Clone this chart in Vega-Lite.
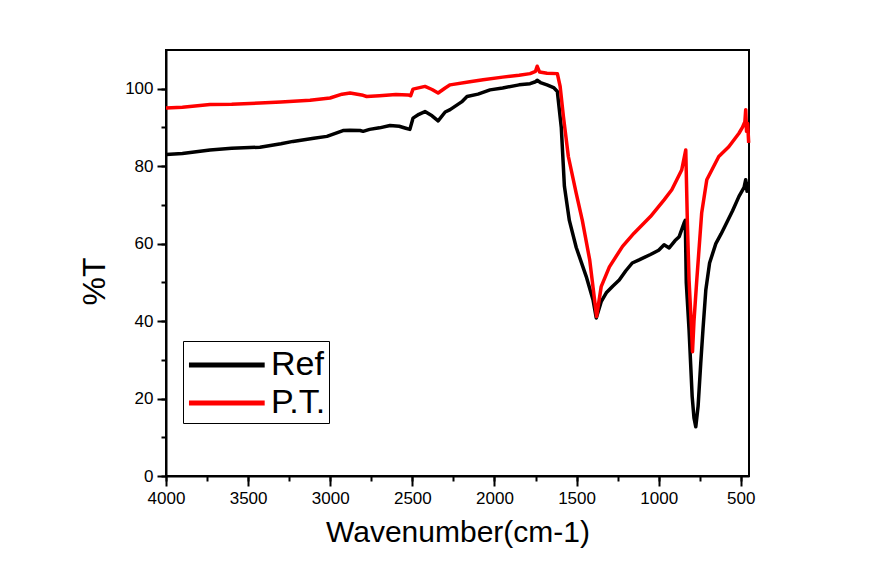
{
  "$schema": "https://vega.github.io/schema/vega-lite/v6.json",
  "autosize": {"type": "none"},
  "width": 583,
  "height": 426,
  "padding": {"left": 166, "top": 50, "right": 126, "bottom": 99},
  "background": "white",
  "config": {
    "view": {"stroke": "black", "strokeWidth": 2},
    "font": "Liberation Sans",
    "axis": {"grid": false, "domainColor": "black", "domainWidth": 2, "tickColor": "black", "tickWidth": 2, "labelColor": "black", "titleColor": "black", "labelFont": "Liberation Sans", "titleFont": "Liberation Sans", "titleFontWeight": "normal"}
  },
  "data": {"values": [
      {"wn": 4000, "T": 83.0, "s": "Ref"}, {"wn": 3900, "T": 83.3, "s": "Ref"}, {"wn": 3732, "T": 84.2, "s": "Ref"}, {"wn": 3600, "T": 84.6, "s": "Ref"}, {"wn": 3428, "T": 84.9, "s": "Ref"}, {"wn": 3300, "T": 85.8, "s": "Ref"}, {"wn": 3227, "T": 86.4, "s": "Ref"}, {"wn": 3100, "T": 87.2, "s": "Ref"}, {"wn": 3020, "T": 87.7, "s": "Ref"}, {"wn": 2922, "T": 89.2, "s": "Ref"}, {"wn": 2880, "T": 89.3, "s": "Ref"}, {"wn": 2818, "T": 89.2, "s": "Ref"}, {"wn": 2800, "T": 89.0, "s": "Ref"}, {"wn": 2760, "T": 89.5, "s": "Ref"}, {"wn": 2700, "T": 89.9, "s": "Ref"}, {"wn": 2636, "T": 90.5, "s": "Ref"}, {"wn": 2580, "T": 90.3, "s": "Ref"}, {"wn": 2540, "T": 89.8, "s": "Ref"}, {"wn": 2515, "T": 89.5, "s": "Ref"}, {"wn": 2496, "T": 92.4, "s": "Ref"}, {"wn": 2460, "T": 93.4, "s": "Ref"}, {"wn": 2423, "T": 94.1, "s": "Ref"}, {"wn": 2380, "T": 93.0, "s": "Ref"}, {"wn": 2343, "T": 91.7, "s": "Ref"}, {"wn": 2300, "T": 94.0, "s": "Ref"}, {"wn": 2270, "T": 94.6, "s": "Ref"}, {"wn": 2200, "T": 96.6, "s": "Ref"}, {"wn": 2167, "T": 98.0, "s": "Ref"}, {"wn": 2100, "T": 98.6, "s": "Ref"}, {"wn": 2027, "T": 99.7, "s": "Ref"}, {"wn": 1950, "T": 100.2, "s": "Ref"}, {"wn": 1850, "T": 101.0, "s": "Ref"}, {"wn": 1783, "T": 101.3, "s": "Ref"}, {"wn": 1750, "T": 101.8, "s": "Ref"}, {"wn": 1740, "T": 102.2, "s": "Ref"}, {"wn": 1720, "T": 101.6, "s": "Ref"}, {"wn": 1680, "T": 101.0, "s": "Ref"}, {"wn": 1640, "T": 100.3, "s": "Ref"}, {"wn": 1617, "T": 99.3, "s": "Ref"}, {"wn": 1593, "T": 90.0, "s": "Ref"}, {"wn": 1574, "T": 74.8, "s": "Ref"}, {"wn": 1544, "T": 66.0, "s": "Ref"}, {"wn": 1502, "T": 59.0, "s": "Ref"}, {"wn": 1441, "T": 51.5, "s": "Ref"}, {"wn": 1400, "T": 45.5, "s": "Ref"}, {"wn": 1380, "T": 40.8, "s": "Ref"}, {"wn": 1350, "T": 45.0, "s": "Ref"}, {"wn": 1319, "T": 47.3, "s": "Ref"}, {"wn": 1280, "T": 49.0, "s": "Ref"}, {"wn": 1240, "T": 50.6, "s": "Ref"}, {"wn": 1200, "T": 53.0, "s": "Ref"}, {"wn": 1161, "T": 55.0, "s": "Ref"}, {"wn": 1119, "T": 55.8, "s": "Ref"}, {"wn": 1050, "T": 57.2, "s": "Ref"}, {"wn": 1000, "T": 58.3, "s": "Ref"}, {"wn": 967, "T": 59.7, "s": "Ref"}, {"wn": 936, "T": 58.9, "s": "Ref"}, {"wn": 900, "T": 60.8, "s": "Ref"}, {"wn": 875, "T": 61.8, "s": "Ref"}, {"wn": 845, "T": 65.4, "s": "Ref"}, {"wn": 838, "T": 66.0, "s": "Ref"}, {"wn": 832, "T": 50.0, "s": "Ref"}, {"wn": 815, "T": 37.7, "s": "Ref"}, {"wn": 796, "T": 20.5, "s": "Ref"}, {"wn": 785, "T": 15.0, "s": "Ref"}, {"wn": 774, "T": 12.7, "s": "Ref"}, {"wn": 760, "T": 18.0, "s": "Ref"}, {"wn": 744, "T": 29.0, "s": "Ref"}, {"wn": 730, "T": 38.0, "s": "Ref"}, {"wn": 713, "T": 48.0, "s": "Ref"}, {"wn": 690, "T": 55.0, "s": "Ref"}, {"wn": 652, "T": 60.0, "s": "Ref"}, {"wn": 620, "T": 62.5, "s": "Ref"}, {"wn": 592, "T": 64.9, "s": "Ref"}, {"wn": 550, "T": 68.5, "s": "Ref"}, {"wn": 511, "T": 72.2, "s": "Ref"}, {"wn": 480, "T": 74.5, "s": "Ref"}, {"wn": 470, "T": 76.5, "s": "Ref"}, {"wn": 462, "T": 73.5, "s": "Ref"}, {"wn": 455, "T": 76.0, "s": "Ref"},
      {"wn": 4000, "T": 95.0, "s": "P.T."}, {"wn": 3900, "T": 95.2, "s": "P.T."}, {"wn": 3732, "T": 95.9, "s": "P.T."}, {"wn": 3600, "T": 96.0, "s": "P.T."}, {"wn": 3428, "T": 96.3, "s": "P.T."}, {"wn": 3300, "T": 96.6, "s": "P.T."}, {"wn": 3123, "T": 97.0, "s": "P.T."}, {"wn": 3001, "T": 97.6, "s": "P.T."}, {"wn": 2928, "T": 98.6, "s": "P.T."}, {"wn": 2879, "T": 98.9, "s": "P.T."}, {"wn": 2800, "T": 98.3, "s": "P.T."}, {"wn": 2778, "T": 98.0, "s": "P.T."}, {"wn": 2700, "T": 98.2, "s": "P.T."}, {"wn": 2600, "T": 98.5, "s": "P.T."}, {"wn": 2526, "T": 98.4, "s": "P.T."}, {"wn": 2510, "T": 98.2, "s": "P.T."}, {"wn": 2496, "T": 99.9, "s": "P.T."}, {"wn": 2423, "T": 100.6, "s": "P.T."}, {"wn": 2380, "T": 99.8, "s": "P.T."}, {"wn": 2343, "T": 98.9, "s": "P.T."}, {"wn": 2300, "T": 100.2, "s": "P.T."}, {"wn": 2270, "T": 101.0, "s": "P.T."}, {"wn": 2150, "T": 101.8, "s": "P.T."}, {"wn": 2069, "T": 102.3, "s": "P.T."}, {"wn": 1950, "T": 103.0, "s": "P.T."}, {"wn": 1850, "T": 103.5, "s": "P.T."}, {"wn": 1783, "T": 103.9, "s": "P.T."}, {"wn": 1750, "T": 104.5, "s": "P.T."}, {"wn": 1740, "T": 105.8, "s": "P.T."}, {"wn": 1725, "T": 104.3, "s": "P.T."}, {"wn": 1680, "T": 104.0, "s": "P.T."}, {"wn": 1617, "T": 103.9, "s": "P.T."}, {"wn": 1600, "T": 100.6, "s": "P.T."}, {"wn": 1580, "T": 92.8, "s": "P.T."}, {"wn": 1550, "T": 82.5, "s": "P.T."}, {"wn": 1502, "T": 73.0, "s": "P.T."}, {"wn": 1465, "T": 66.0, "s": "P.T."}, {"wn": 1420, "T": 55.8, "s": "P.T."}, {"wn": 1378, "T": 41.2, "s": "P.T."}, {"wn": 1350, "T": 48.9, "s": "P.T."}, {"wn": 1300, "T": 54.0, "s": "P.T."}, {"wn": 1220, "T": 59.3, "s": "P.T."}, {"wn": 1150, "T": 62.7, "s": "P.T."}, {"wn": 1050, "T": 67.0, "s": "P.T."}, {"wn": 967, "T": 71.3, "s": "P.T."}, {"wn": 920, "T": 73.9, "s": "P.T."}, {"wn": 860, "T": 79.0, "s": "P.T."}, {"wn": 835, "T": 84.2, "s": "P.T."}, {"wn": 825, "T": 65.0, "s": "P.T."}, {"wn": 815, "T": 50.6, "s": "P.T."}, {"wn": 800, "T": 38.0, "s": "P.T."}, {"wn": 794, "T": 32.1, "s": "P.T."}, {"wn": 785, "T": 40.0, "s": "P.T."}, {"wn": 768, "T": 50.6, "s": "P.T."}, {"wn": 738, "T": 68.0, "s": "P.T."}, {"wn": 707, "T": 76.5, "s": "P.T."}, {"wn": 634, "T": 82.5, "s": "P.T."}, {"wn": 573, "T": 85.0, "s": "P.T."}, {"wn": 511, "T": 88.5, "s": "P.T."}, {"wn": 490, "T": 90.0, "s": "P.T."}, {"wn": 475, "T": 91.5, "s": "P.T."}, {"wn": 470, "T": 94.6, "s": "P.T."}, {"wn": 465, "T": 89.0, "s": "P.T."}, {"wn": 458, "T": 91.0, "s": "P.T."}, {"wn": 452, "T": 86.0, "s": "P.T."}
  ]},
  "resolve": {"axis": {"x": "independent", "y": "independent"}},
  "layer": [
    {
      "mark": {"type": "line", "opacity": 0},
      "encoding": {
        "x": {"field": "wn", "type": "quantitative", "scale": {"domain": [450, 4000], "reverse": true, "nice": false, "zero": false},
          "axis": {"orient": "bottom", "values": [4000, 3750, 3500, 3250, 3000, 2750, 2500, 2250, 2000, 1750, 1500, 1250, 1000, 750, 500], "tickSize": 5, "labels": false, "domain": false, "title": null}},
        "y": {"field": "T", "type": "quantitative", "scale": {"domain": [0, 110], "nice": false, "zero": false},
          "axis": {"orient": "left", "values": [0, 10, 20, 30, 40, 50, 60, 70, 80, 90, 100], "tickSize": 5, "labels": false, "domain": false, "title": null}}
      }
    },
    {
      "mark": {"type": "line", "strokeWidth": 3.5, "strokeJoin": "round"},
      "encoding": {
        "x": {"field": "wn", "type": "quantitative", "scale": {"domain": [450, 4000], "reverse": true, "nice": false, "zero": false},
          "axis": {"orient": "bottom", "values": [4000, 3500, 3000, 2500, 2000, 1500, 1000, 500], "format": "d", "tickSize": 10, "labelFontSize": 17, "labelPadding": 4, "labelFlush": false, "title": "Wavenumber(cm-1)", "titleFontSize": 30, "titlePadding": 11}},
        "y": {"field": "T", "type": "quantitative", "scale": {"domain": [0, 110], "nice": false, "zero": false},
          "axis": {"orient": "left", "values": [0, 20, 40, 60, 80, 100], "tickSize": 9, "labelFontSize": 17, "labelPadding": 4, "labelFlush": false, "title": "%T", "titleFontSize": 32, "titleX": -62, "titleY": 231, "titleAlign": "center", "titleBaseline": "alphabetic", "titleAngle": -90}},
        "color": {"field": "s", "type": "nominal", "scale": {"domain": ["Ref", "P.T."], "range": ["#000000", "#ff0000"]},
          "legend": {"title": null, "orient": "none", "legendX": 17, "legendY": 291, "symbolType": "M-1,0H3.2", "symbolSize": 1300, "symbolStrokeWidth": 5, "labelFontSize": 34, "labelFont": "Liberation Sans", "labelColor": "black", "labelOffset": 43, "strokeColor": "black", "padding": 3, "rowPadding": 0, "fillColor": "white"}}
      }
    }
  ]
}
